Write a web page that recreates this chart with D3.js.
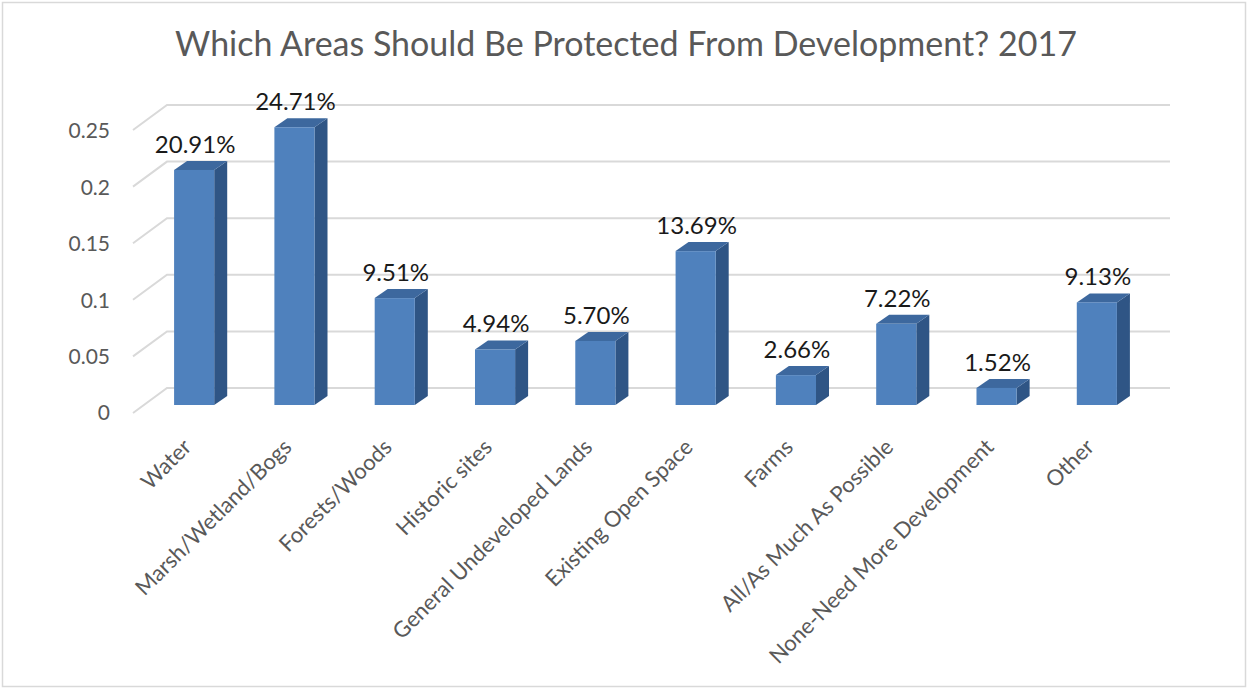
<!DOCTYPE html>
<html>
<head>
<meta charset="utf-8">
<script src="https://cdn.jsdelivr.net/npm/d3@7"></script>
<style>
  html, body { margin: 0; padding: 0; background: #fff; }
  svg { display: block; }
</style>
</head>
<body>
<svg id="chart" width="1250" height="691"></svg>
<script>
// ---- data ----
const categories = ["Water", "Marsh/Wetland/Bogs", "Forests/Woods", "Historic sites",
  "General Undeveloped Lands", "Existing Open Space", "Farms", "All/As Much As Possible",
  "None-Need More Development", "Other"];
const values = [0.2091, 0.2471, 0.0951, 0.0494, 0.0570, 0.1369, 0.0266, 0.0722, 0.0152, 0.0913];
const labels = ["20.91%", "24.71%", "9.51%", "4.94%", "5.70%", "13.69%", "2.66%", "7.22%", "1.52%", "9.13%"];
const yTicks = [0, 0.05, 0.1, 0.15, 0.2, 0.25];
const yTickLabels = ["0", "0.05", "0.1", "0.15", "0.2", "0.25"];
const title = "Which Areas Should Be Protected From Development? 2017";

// ---- layout ----
const svg = d3.select("#chart");
const FONT = "Lato, 'Open Sans', sans-serif";
const depthX = 34, depthY = 25;       // floor depth (back wall -> front)
const barDX = 13, barDY = 9;          // bar depth
const wallLeft = 167, wallRight = 1170;

svg.append("rect").attr("x", 2.5).attr("y", 2.5).attr("width", 1243).attr("height", 684)
  .attr("fill", "#fff").attr("stroke", "#d9d9d9").attr("stroke-width", 1.5);

// back wall scale
const yBack = d3.scaleLinear().domain([0, 0.25]).range([388, 105]);
// bar front face scale
const yFront = d3.scaleLinear().domain([0, 0.25]).range([405, 124]);
// tick-label scale (front edge)
const yLabel = d3.scaleLinear().domain([0, 0.25]).range([413, 131]);

const x = d3.scaleBand().domain(categories).range([144, 1147]).paddingInner(0.6).paddingOuter(0.3);

// title
svg.append("text").attr("x", 626).attr("y", 56).attr("text-anchor", "middle")
  .attr("font-family", FONT).attr("font-size", 34).attr("fill", "#595959").text(title);

// gridlines: back wall + side wall diagonals
const grid = svg.append("g").attr("stroke", "#d9d9d9").attr("stroke-width", 2).attr("fill", "none");
yTicks.forEach(t => {
  const yb = yBack(t);
  grid.append("path").attr("d", `M${wallLeft - depthX},${yb + depthY} L${wallLeft},${yb} L${wallRight},${yb}`);
});

// y tick labels
svg.append("g").selectAll("text").data(yTicks).join("text")
  .attr("x", 110).attr("y", d => yLabel(d)).attr("dy", "0.35em").attr("text-anchor", "end")
  .attr("font-family", FONT).attr("font-size", 21).attr("fill", "#595959")
  .text((d, i) => yTickLabels[i]);

// bars
const bars = svg.append("g").selectAll("g").data(categories).join("g");
bars.each(function(c, i) {
  const g = d3.select(this);
  const x0 = x(c), w = x.bandwidth();
  const yt = yFront(values[i]), yb = yFront(0);
  // side
  g.append("path").attr("fill", "#2f5585")
    .attr("d", `M${x0 + w},${yt} L${x0 + w + barDX},${yt - barDY} L${x0 + w + barDX},${yb - barDY} L${x0 + w},${yb} Z`);
  // top
  g.append("path").attr("fill", "#3d689e")
    .attr("d", `M${x0},${yt} L${x0 + barDX},${yt - barDY} L${x0 + w + barDX},${yt - barDY} L${x0 + w},${yt} Z`);
  // front
  g.append("rect").attr("x", x0).attr("y", yt).attr("width", w).attr("height", yb - yt).attr("fill", "#4f81bd");
  // value label
  g.append("text").attr("x", x0 + w / 2 + 1).attr("y", yt - barDY - 8).attr("text-anchor", "middle")
    .attr("font-family", FONT).attr("font-size", 24).attr("fill", "#1a1a1a").text(labels[i]);
});

// category labels (rotated)
svg.append("g").selectAll("text").data(categories).join("text")
  .attr("transform", d => `translate(${x(d) + x.bandwidth() / 2 - 7},${443}) rotate(-45)`)
  .attr("text-anchor", "end").attr("dy", "0.35em")
  .attr("font-family", FONT).attr("font-size", 22).attr("fill", "#595959")
  .text(d => d);
</script>
</body>
</html>
